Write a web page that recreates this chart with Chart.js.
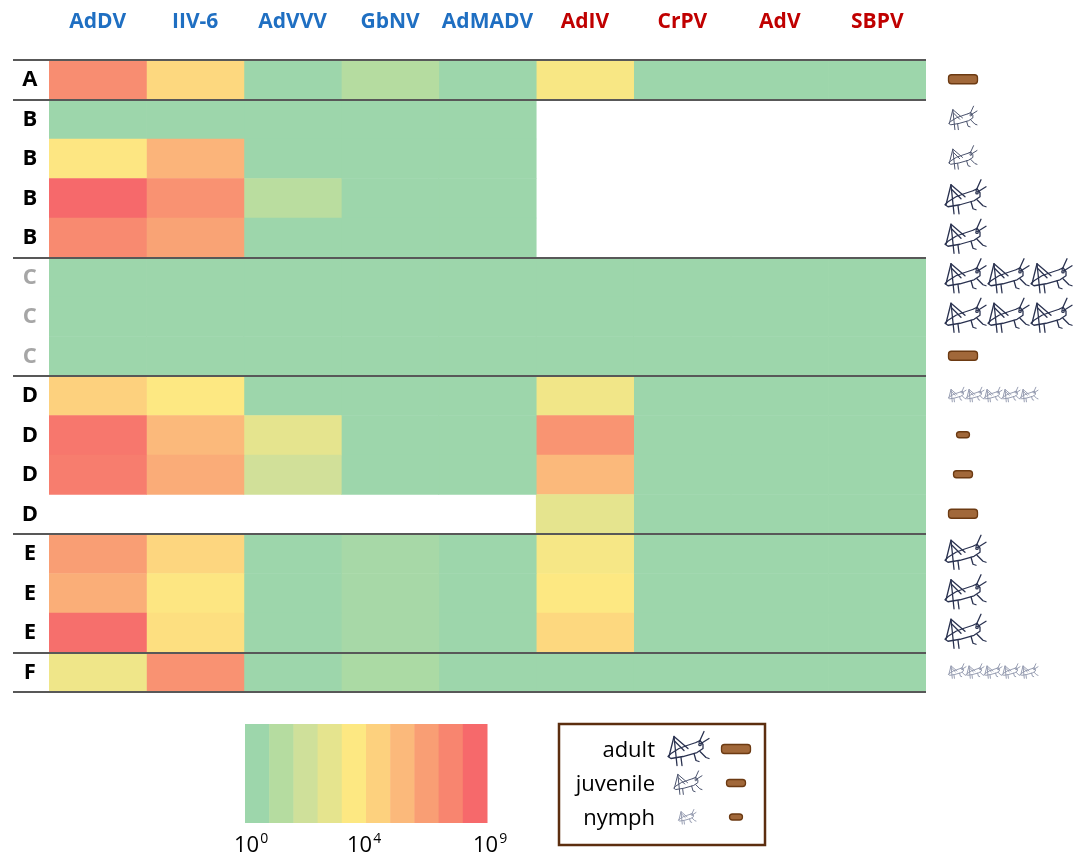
<!DOCTYPE html>
<html lang="en">
<head>
<meta charset="UTF-8">
<title>Virus loads heatmap</title>
<script src="https://cdn.jsdelivr.net/npm/chart.js@4.4.1/dist/chart.umd.min.js"></script>
<style>
  body { margin: 0; background: #fff; }
  canvas { display: block; }
</style>
</head>
<body>
<canvas id="heat" width="1084" height="865"></canvas>
<script>
// columns: DNA viruses in blue, RNA viruses in red
const viruses = ['AdDV', 'IIV-6', 'AdVVV', 'GbNV', 'AdMADV', 'AdIV', 'CrPV', 'AdV', 'SBPV'];
const virusColors = ['#1f6fc2', '#1f6fc2', '#1f6fc2', '#1f6fc2', '#1f6fc2', '#c00000', '#c00000', '#c00000', '#c00000'];

const rowLabels = ['A', 'B', 'B', 'B', 'B', 'C', 'C', 'C', 'D', 'D', 'D', 'D', 'E', 'E', 'E', 'F'];
const groupBreaks = [0, 1, 5, 8, 12, 15, 16];

// log10 of virus load per row, null = not tested (white)
const AdDV   = [7.7, 0, 4.1, 9, 7.8, 0, 0, 0, 5, 8.5, 8.3, null, 7, 6.4, 8.8, 3.4];
const IIV6   = [4.7, 0, 6.2, 7.5, 6.8, 0, 0, 0, 4, 6, 6.5, null, 4.8, 4.1, 4.4, 7.5];
const AdVVV  = [0, 0, 0, 1.2, 0, 0, 0, 0, 0, 3, 2.1, null, 0, 0, 0, 0];
const GbNV   = [1, 0, 0, 0, 0, 0, 0, 0, 0, 0, 0, null, 0.4, 0.4, 0.4, 0.6];
const AdMADV = [0, 0, 0, 0, 0, 0, 0, 0, 0, 0, 0, null, 0, 0, 0, 0];
const AdIV   = [3.8, null, null, null, null, 0, 0, 0, 3.5, 7.4, 6, 3, 3.7, 4, 4.7, 0];
const CrPV   = [0, null, null, null, null, 0, 0, 0, 0, 0, 0, 0, 0, 0, 0, 0];
const AdV    = [0, null, null, null, null, 0, 0, 0, 0, 0, 0, 0, 0, 0, 0, 0];
const SBPV   = [0, null, null, null, null, 0, 0, 0, 0, 0, 0, 0, 0, 0, 0, 0];
const loads = [AdDV, IIV6, AdVVV, GbNV, AdMADV, AdIV, CrPV, AdV, SBPV];

// what was sampled in each row
const sampleKind  = ['frass', 'juvenile', 'juvenile', 'adult', 'adult', 'adult', 'adult', 'frass',
                     'nymph', 'frass', 'frass', 'frass', 'adult', 'adult', 'adult', 'nymph'];
const sampleStage = ['adult', 'juvenile', 'juvenile', 'adult', 'adult', 'adult', 'adult', 'adult',
                     'nymph', 'nymph', 'juvenile', 'adult', 'adult', 'adult', 'adult', 'nymph'];
const sampleCount = [1, 1, 1, 1, 1, 3, 3, 1, 5, 1, 1, 1, 1, 1, 1, 5];

// colour key, 10^0 .. 10^9
const scaleColors = ['#9dd6ab', '#b5dca0', '#cfe09a', '#e5e48e', '#fde882',
                     '#fdd17e', '#fbb97b', '#f99e74', '#f8856f', '#f6696b'];
const scaleTicks = ['0', '4', '9'];
const legendStages = ['adult', 'juvenile', 'nymph'];

function hexRgb(h) {
  return [1, 3, 5].map(i => parseInt(h.slice(i, i + 2), 16));
}
function heatColor(v) {
  if (v === null) return 'rgba(0,0,0,0)';
  const i = Math.min(Math.floor(v), 8);
  const t = v - i;
  const a = hexRgb(scaleColors[i]), b = hexRgb(scaleColors[i + 1]);
  const c = a.map((x, k) => Math.round(x + (b[k] - x) * t));
  return 'rgb(' + c.join(',') + ')';
}

// little grasshopper line drawing, unit box 42 x 35
const hopper = [
  [[32, 11], [37, 0]],
  [[34, 12], [42, 7]],
  [[29, 11], [20, 14], [12, 17], [4, 22], [1, 25], [4, 27], [16, 25], [30, 21], [36, 17], [36, 13], [33, 9], [29, 11]],
  [[2, 25], [7, 5], [21, 17]],
  [[8, 10], [17, 19]],
  [[7, 5], [10, 34]],
  [[14, 26], [15, 34]],
  [[27, 22], [29, 29], [32, 30]],
  [[33, 20], [39, 26], [42, 27]]
];
const stageLook = {
  adult:    { w: 42, color: '#2a3250', lw: 1.3 },
  juvenile: { w: 29, color: '#4c546e', lw: 1.0 },
  nymph:    { w: 18, color: '#8d94aa', lw: 0.9 }
};
const frassLook = {
  adult:    { w: 29, h: 9 },
  juvenile: { w: 19, h: 7 },
  nymph:    { w: 13, h: 6 }
};

function drawHopper(ctx, x, y, stage) {
  const s = stageLook[stage];
  const k = s.w / 42;
  ctx.save();
  ctx.strokeStyle = s.color;
  ctx.lineWidth = s.lw;
  ctx.lineJoin = 'round';
  ctx.lineCap = 'round';
  hopper.forEach(line => {
    ctx.beginPath();
    line.forEach((p, i) => {
      const px = x + p[0] * k, py = y + p[1] * k;
      if (i === 0) ctx.moveTo(px, py); else ctx.lineTo(px, py);
    });
    ctx.stroke();
  });
  ctx.beginPath();
  ctx.arc(x + 33 * k, y + 13 * k, 1.2 * k, 0, Math.PI * 2);
  ctx.stroke();
  ctx.restore();
}

function drawFrass(ctx, cx, cy, stage) {
  const f = frassLook[stage];
  ctx.save();
  ctx.fillStyle = '#a1683a';
  ctx.strokeStyle = '#6c3a12';
  ctx.lineWidth = 1.3;
  ctx.beginPath();
  ctx.roundRect(cx - f.w / 2, cy - f.h / 2, f.w, f.h, 3);
  ctx.fill();
  ctx.stroke();
  ctx.restore();
}

const decor = {
  id: 'decor',
  afterDraw(chart) {
    const ctx = chart.ctx;
    const y = chart.scales.y;
    const area = chart.chartArea;
    const step = (y.getPixelForValue(1) - y.getPixelForValue(0));
    const rowY = i => y.getPixelForValue(i);

    // group separators
    ctx.save();
    ctx.strokeStyle = '#585858';
    ctx.lineWidth = 2;
    groupBreaks.forEach(b => {
      const py = Math.round(rowY(0) - step / 2 + b * step);
      ctx.beginPath();
      ctx.moveTo(13, py);
      ctx.lineTo(area.right, py);
      ctx.stroke();
    });
    ctx.restore();

    // sample icons per row
    rowLabels.forEach((lab, i) => {
      const cy = rowY(i);
      const kind = sampleKind[i];
      if (kind === 'frass') {
        drawFrass(ctx, 963, cy - 0.5, sampleStage[i]);
        return;
      }
      const s = stageLook[kind];
      const h = s.w * 35 / 42;
      const x0 = kind === 'adult' ? 944 : 948;
      const gap = kind === 'adult' ? 43 : 18;
      for (let n = 0; n < sampleCount[i]; n++) {
        drawHopper(ctx, x0 + n * gap, cy - h / 2 - 1, kind);
      }
    });

    // colour key
    const kx = 245, kw = 242, ky = 724, kh = 99;
    scaleColors.forEach((c, i) => {
      ctx.fillStyle = c;
      ctx.fillRect(kx + i * kw / 10, ky, kw / 10 + 0.5, kh);
    });
    const tickX = [234, 347, 473];
    ctx.fillStyle = '#000';
    ctx.textBaseline = 'alphabetic';
    ctx.textAlign = 'left';
    scaleTicks.forEach((t, i) => {
      ctx.font = "22px 'Open Sans'";
      ctx.fillText('10', tickX[i], 852);
      const w = ctx.measureText('10').width;
      ctx.font = "14px 'Open Sans'";
      ctx.fillText(t, tickX[i] + w + 1, 843);
    });

    // stage key box
    ctx.save();
    ctx.strokeStyle = '#5c2e0f';
    ctx.lineWidth = 2.5;
    ctx.strokeRect(559, 724, 206, 121);
    ctx.restore();
    ctx.font = "22px 'Open Sans'";
    ctx.textAlign = 'right';
    ctx.fillStyle = '#000';
    const keyBase = [757, 791, 825];
    const keyHopperX = [667, 673, 678];
    legendStages.forEach((st, i) => {
      ctx.fillText(st, 655, keyBase[i]);
      const s = stageLook[st];
      const h = s.w * 35 / 42;
      drawHopper(ctx, keyHopperX[i], keyBase[i] - 8 - h / 2, st);
      drawFrass(ctx, 736, keyBase[i] - 8, st);
    });
  }
};

Chart.defaults.font.family = "'Open Sans', sans-serif";

new Chart(document.getElementById('heat'), {
  type: 'bar',
  data: {
    labels: rowLabels,
    datasets: loads.map((vals, j) => ({
      label: viruses[j],
      data: vals.map(() => 1),
      backgroundColor: vals.map(heatColor),
      borderWidth: 0,
      barPercentage: 1,
      categoryPercentage: 1,
      stack: 'row'
    }))
  },
  options: {
    indexAxis: 'y',
    responsive: false,
    animation: false,
    layout: { padding: { left: 0, top: 0, right: 158, bottom: 173 } },
    plugins: { legend: { display: false }, tooltip: { enabled: false } },
    scales: {
      x: { type: 'linear', stacked: true, min: 0, max: 9, display: false },
      xTop: {
        type: 'category',
        axis: 'x',
        labels: viruses,
        position: 'top',
        offset: true,
        grid: { display: false },
        border: { display: false },
        ticks: {
          color: ctx => virusColors[ctx.index],
          font: { size: 21, weight: 'bold' },
          padding: 17,
          maxRotation: 0,
          autoSkip: false
        },
        afterFit: s => { s.height = 60; }
      },
      y: {
        type: 'category',
        stacked: true,
        grid: { display: false },
        border: { display: false },
        ticks: {
          color: ctx => rowLabels[ctx.index] === 'C' ? '#a6a6a6' : '#000',
          font: { size: 22, weight: 'bold' },
          padding: 3,
          crossAlign: 'center',
          autoSkip: false
        },
        afterFit: s => { s.width = 49; }
      }
    }
  },
  plugins: [decor]
});
</script>
</body>
</html>
